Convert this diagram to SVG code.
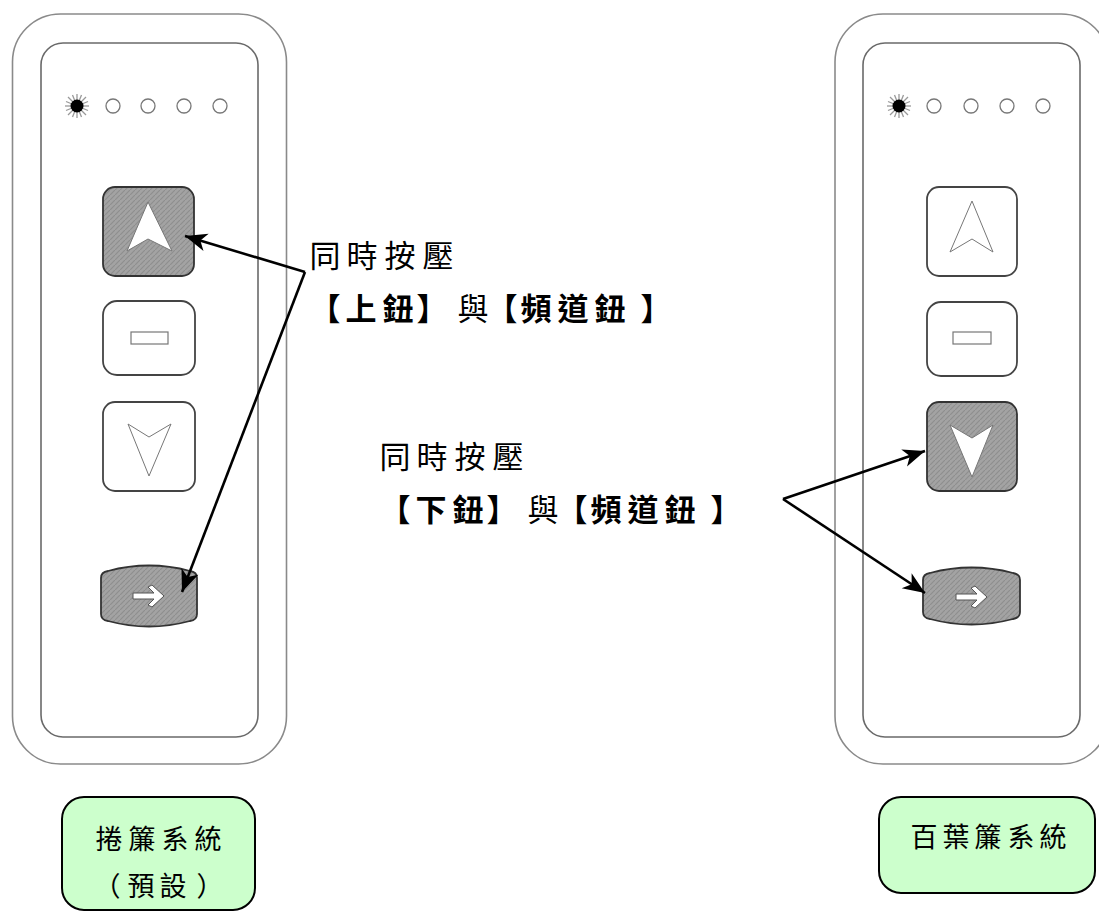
<svg xmlns="http://www.w3.org/2000/svg" width="1099" height="912" viewBox="0 0 1099 912">
<style>
.outer{fill:none;stroke:#8a8a8a;stroke-width:1.6}
.inner{fill:none;stroke:#6a6a6a;stroke-width:1.6}
.btn{fill:#fff;stroke:#444;stroke-width:1.8}
.btnon{fill:url(#hatch);stroke:#333;stroke-width:1.8}
.tri{fill:#fff;stroke:#777;stroke-width:1}
.led{fill:#fff;stroke:#777;stroke-width:1.3}
.conn{fill:none;stroke:#000;stroke-width:2.6}
.lbl{font-family:"Noto Sans CJK TC","Noto Sans CJK SC",sans-serif;font-size:31px;fill:#000;text-anchor:middle}
.b{font-weight:700}
.box{fill:#ccffcc;stroke:#000;stroke-width:2}
.bt{font-family:"Noto Sans CJK TC","Noto Sans CJK SC",sans-serif;font-size:27px;fill:#000;text-anchor:middle}
.ray{stroke:#999;stroke-width:1.3}
</style>
<defs>
<pattern id="hatch" patternUnits="userSpaceOnUse" width="5" height="5">
<rect width="5" height="5" fill="#a3a3a3"/>
<path d="M-1,6 L6,-1" stroke="#8e8e8e" stroke-width="1.2"/>
</pattern>
<marker id="ah" markerUnits="userSpaceOnUse" markerWidth="24" markerHeight="20" refX="22" refY="9" orient="auto" overflow="visible">
<path d="M0,0 L22,9 L0,18 L6,9 Z" fill="#000"/>
</marker>
<g id="burst">
<line class="ray" x1="-12" y1="0" x2="12" y2="0"/>
<line class="ray" x1="0" y1="-12" x2="0" y2="12"/>
<line class="ray" x1="-9" y1="-9" x2="9" y2="9"/>
<line class="ray" x1="-9" y1="9" x2="9" y2="-9"/>
<line class="ray" x1="-11" y1="-4.5" x2="11" y2="4.5"/>
<line class="ray" x1="-11" y1="4.5" x2="11" y2="-4.5"/>
<line class="ray" x1="-4.5" y1="-11" x2="4.5" y2="11"/>
<line class="ray" x1="4.5" y1="-11" x2="-4.5" y2="11"/>
<circle r="6.5" fill="#000"/>
</g>
<path id="rarrow" d="M-16,-3 L5,-3 L-1,-9 L3,-11 L15,0 L3,11 L-1,9 L5,3 L-16,3 Z" fill="#fff" stroke="#555" stroke-width="1"/>
</defs>
<rect width="1099" height="912" fill="#fff"/>

<g id="left-remote">
<rect class="outer" x="12.5" y="14" width="274" height="750" rx="48"/>
<rect class="inner" x="41" y="43" width="217" height="694" rx="22"/>
<use href="#burst" x="77" y="106"/>
<circle class="led" cx="113" cy="106" r="7"/>
<circle class="led" cx="148" cy="106" r="7"/>
<circle class="led" cx="184" cy="106" r="7"/>
<circle class="led" cx="220" cy="106" r="7"/>
<g id="left-up">
<rect class="btnon" x="103" y="187" width="91" height="89" rx="12"/>
<path class="tri" d="M148,202 L172,251 L148,239 L127,251 Z"/>
</g>
<g id="left-stop">
<rect class="btn" x="103" y="301" width="92" height="74" rx="14"/>
<rect x="131" y="332" width="37" height="12" fill="#fff" stroke="#777" stroke-width="1.2"/>
</g>
<g id="left-down">
<rect class="btn" x="103" y="402" width="92" height="89" rx="12"/>
<path class="tri" d="M128,424 L149,437 L171,424 L149,476 Z"/>
</g>
<g id="left-channel">
<path class="btnon" d="M101,578 Q101,572 108,571 Q149,560 190,571 Q197,572 197,578 L197,614 Q197,620 190,621 Q149,632 108,621 Q101,620 101,614 Z"/>
<use href="#rarrow" x="149" y="596"/>
</g>
</g>

<g id="right-remote">
<rect class="outer" x="835" y="14" width="274" height="750" rx="48"/>
<rect class="inner" x="863" y="43" width="217" height="694" rx="22"/>
<use href="#burst" x="899" y="106"/>
<circle class="led" cx="934" cy="106" r="7"/>
<circle class="led" cx="971" cy="106" r="7"/>
<circle class="led" cx="1007" cy="106" r="7"/>
<circle class="led" cx="1043" cy="106" r="7"/>
<g id="right-up">
<rect class="btn" x="927" y="187" width="90" height="89" rx="12"/>
<path class="tri" d="M972,201 L993,252 L972,239 L950,252 Z"/>
</g>
<g id="right-stop">
<rect class="btn" x="927" y="302" width="90" height="74" rx="14"/>
<rect x="953" y="332" width="38" height="12" fill="#fff" stroke="#777" stroke-width="1.2"/>
</g>
<g id="right-down">
<rect class="btnon" x="927" y="402" width="90" height="89" rx="12"/>
<path class="tri" d="M950,425 L972,438 L993,425 L972,477 Z"/>
</g>
<g id="right-channel">
<path class="btnon" d="M923,580 Q923,574 930,573 Q971.5,562 1013,573 Q1020,574 1020,580 L1020,612 Q1020,618 1013,619 Q971.5,630 930,619 Q923,618 923,612 Z"/>
<use href="#rarrow" x="972" y="597"/>
</g>
</g>

<g id="label-up">
<text class="lbl"><tspan x="325 362 400 438" y="267">同時按壓</tspan></text>
<text class="lbl" y="320"><tspan class="b" x="325 361 398 432">【上鈕】</tspan><tspan x="473">與</tspan><tspan class="b" x="502 536 573 610 656">【頻道鈕】</tspan></text>
</g>

<g id="label-down">
<text class="lbl"><tspan x="395 432 470 508" y="468">同時按壓</tspan></text>
<text class="lbl" y="521"><tspan class="b" x="395 431 468 502">【下鈕】</tspan><tspan x="543">與</tspan><tspan class="b" x="572 606 643 680 726">【頻道鈕】</tspan></text>
</g>

<g id="connectors">
<path class="conn" d="M305,272 L185,236" marker-end="url(#ah)"/>
<path class="conn" d="M305,272 L182,592" marker-end="url(#ah)"/>
<path class="conn" d="M783,499 L925,451" marker-end="url(#ah)"/>
<path class="conn" d="M783,499 L925,593" marker-end="url(#ah)"/>
</g>

<g id="box-roller">
<rect class="box" x="62" y="797" width="193" height="113" rx="22"/>
<text class="bt" x="109 142 175 208" y="849">捲簾系統</text>
<text class="bt" x="107 141 173 210" y="896">（預設）</text>
</g>

<g id="box-venetian">
<rect class="box" x="879" y="797" width="216" height="96" rx="22"/>
<text class="bt" x="924 956 988 1021 1053" y="847">百葉簾系統</text>
</g>
</svg>
